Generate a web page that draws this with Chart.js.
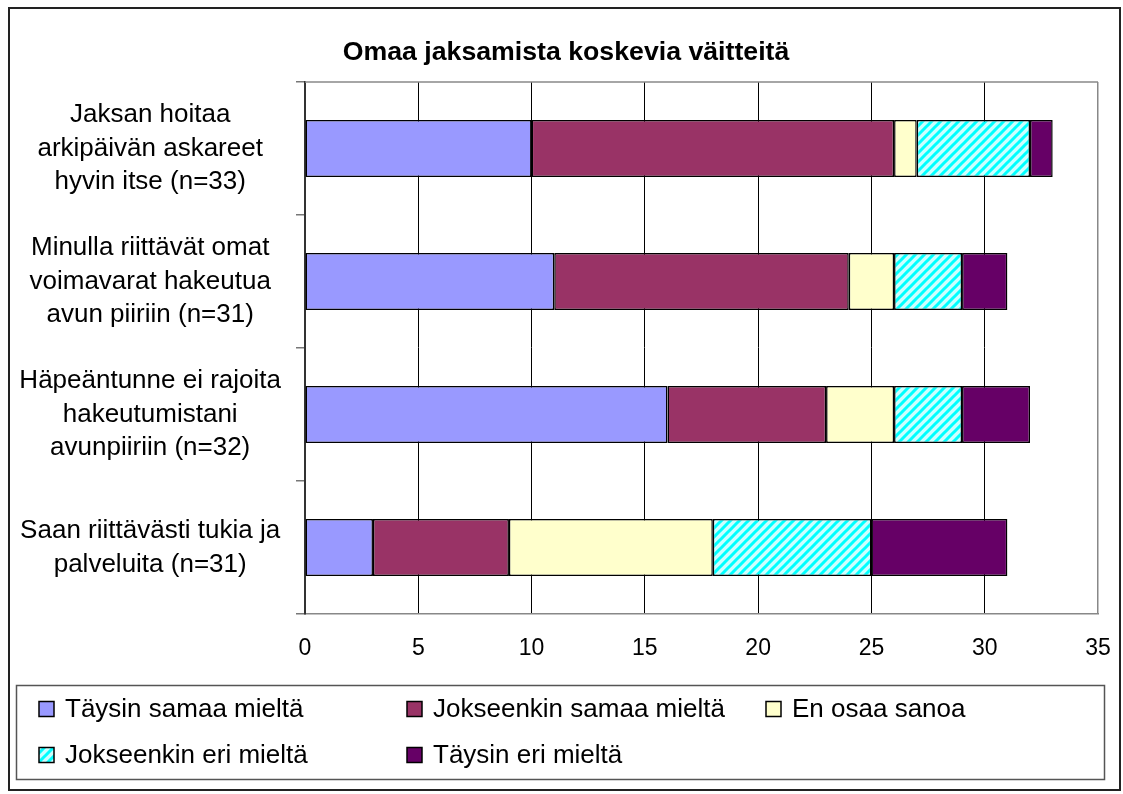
<!DOCTYPE html>
<html><head><meta charset="utf-8">
<script src="https://cdn.jsdelivr.net/npm/chart.js@4/dist/chart.umd.min.js"></script>
<style>html,body{margin:0;padding:0;background:#fff}#wrap{width:1123px;height:794px;position:relative}</style>
</head><body><div id="wrap"><canvas id="c" width="1123" height="794"></canvas></div>
<script>
// ---- data ----
const chartTitle = "Omaa jaksamista koskevia väitteitä";
const categories = [
  ["Jaksan hoitaa", "arkipäivän askareet", "hyvin itse (n=33)"],
  ["Minulla riittävät omat", "voimavarat hakeutua", "avun piiriin (n=31)"],
  ["Häpeäntunne ei rajoita", "hakeutumistani", "avunpiiriin (n=32)"],
  ["Saan riittävästi tukia ja", "palveluita (n=31)"]
];
const seriesNames = ["Täysin samaa mieltä", "Jokseenkin samaa mieltä", "En osaa sanoa", "Jokseenkin eri mieltä", "Täysin eri mieltä"];
const taysinSamaa     = [10, 11, 16, 3];
const jokseenkinSamaa = [16, 13, 7, 6];
const enOsaaSanoa     = [1, 2, 3, 9];
const jokseenkinEri   = [5, 3, 3, 7];
const taysinEri       = [1, 2, 3, 6];
const xMin = 0, xMax = 35, xStep = 5;

// ---- styles ----
const FONT = '"Liberation Sans", Arial, sans-serif';
function makeHatch() {
  const s = 9;
  const c = document.createElement('canvas'); c.width = s; c.height = s;
  const g = c.getContext('2d');
  g.fillStyle = '#CCFFFF'; g.fillRect(0, 0, s, s);
  g.strokeStyle = '#00FFFF'; g.lineWidth = 3; g.lineCap = 'square';
  g.beginPath();
  g.moveTo(-2, s + 2); g.lineTo(s + 2, -2);
  g.moveTo(-2, 2); g.lineTo(2, -2);
  g.moveTo(s - 2, s + 2); g.lineTo(s + 2, s - 2);
  g.stroke();
  return g.createPattern(c, 'repeat');
}
const hatch = makeHatch();
const colors = ['#9999FF', '#993366', '#FFFFCC', hatch, '#660066'];
const seriesData = [taysinSamaa, jokseenkinSamaa, enOsaaSanoa, jokseenkinEri, taysinEri];

const framePlugin = {
  id: 'frame',
  beforeDatasetsDraw(chart) {
    const { ctx, chartArea: a } = chart;
    ctx.save();
    ctx.strokeStyle = '#888'; ctx.lineWidth = 1.5;
    ctx.beginPath(); ctx.moveTo(a.left, a.top); ctx.lineTo(a.right, a.top); ctx.stroke();
    ctx.restore();
  },
  afterDraw(chart) {
    const ctx = chart.ctx;
    ctx.save();
    // title
    ctx.fillStyle = '#000';
    ctx.font = 'bold 26.7px ' + FONT;
    ctx.textAlign = 'center'; ctx.textBaseline = 'middle';
    ctx.fillText(chartTitle, 566, 53);
    // legend box
    ctx.strokeStyle = '#555'; ctx.lineWidth = 1.5;
    ctx.strokeRect(16.5, 685.5, 1088, 94);
    const cols = [39, 407, 766];
    const rows = [709, 755];
    ctx.font = '26px ' + FONT;
    ctx.textBaseline = 'middle'; ctx.textAlign = 'left';
    chart.data.datasets.forEach((ds, i) => {
      const x = cols[i % 3], y = rows[Math.floor(i / 3)];
      ctx.fillStyle = ds.backgroundColor;
      ctx.fillRect(x, y - 7.5, 15, 15);
      ctx.strokeStyle = '#000'; ctx.lineWidth = 1.5;
      ctx.strokeRect(x, y - 7.5, 15, 15);
      ctx.fillStyle = '#000';
      ctx.fillText(ds.label, x + 26, y + 1);
    });
    // outer border
    ctx.strokeStyle = '#222'; ctx.lineWidth = 2;
    ctx.strokeRect(9, 8, 1111, 782);
    ctx.restore();
  }
};

new Chart(document.getElementById('c'), {
  type: 'bar',
  data: {
    labels: categories,
    datasets: seriesNames.map((n, i) => ({
      label: n,
      data: seriesData[i],
      backgroundColor: colors[i],
      borderColor: '#000',
      borderWidth: 1.5,
      borderSkipped: false,
      barPercentage: 0.43,
      categoryPercentage: 1.0
    }))
  },
  options: {
    indexAxis: 'y',
    responsive: false,
    animation: false,
    devicePixelRatio: 1,
    layout: { padding: { left: 0, right: 25, top: 82, bottom: 120 } },
    plugins: {
      legend: { display: false },
      tooltip: { enabled: false },
      title: { display: false }
    },
    scales: {
      x: {
        stacked: true, min: xMin, max: xMax,
        ticks: { stepSize: xStep, color: '#000', padding: 0, font: { family: FONT, size: 23 } },
        grid: {
          drawTicks: true, tickLength: 21, tickColor: 'rgba(0,0,0,0)',
          color: (c) => c.index === 0 ? 'rgba(0,0,0,0)' : (c.tick && c.tick.value === xMax ? '#888' : '#000'),
          lineWidth: (c) => c.tick && c.tick.value === xMax ? 1.5 : 1
        },
        border: { color: '#888', width: 1.5 },
        afterFit(s) { s.height = 60; }
      },
      y: {
        stacked: true,
        ticks: { color: '#000', padding: 15, crossAlign: 'center', font: { family: FONT, size: 26, lineHeight: 1.3 } },
        grid: { offset: true, drawOnChartArea: false, drawTicks: true, tickLength: 9, color: '#777', lineWidth: 1.5 },
        border: { color: '#333', width: 2 },
        afterFit(s) { s.width = 305; }
      }
    }
  },
  plugins: [framePlugin]
});
</script>
</body></html>
